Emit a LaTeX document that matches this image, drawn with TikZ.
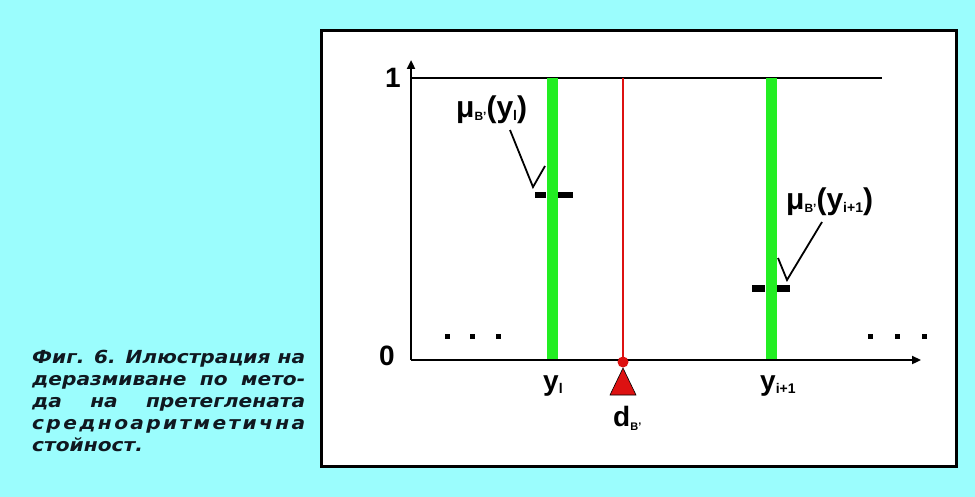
\documentclass[tikz,border=0pt]{standalone}
\usepackage{fontspec}
\setmainfont{Liberation Sans}
\newfontfamily\capfont[FakeStretch=1.12]{DejaVu Sans}
\usetikzlibrary{arrows.meta}
\definecolor{bgcyan}{HTML}{9BFDFD}
\definecolor{barGreen}{HTML}{22EE22}
\definecolor{redline}{HTML}{DD1111}
\definecolor{captext}{HTML}{101820}
\newcommand{\sbs}[2]{\raisebox{-#1}{\fontsize{14}{14}\selectfont #2}}
\tikzset{
  lbl/.style={font=\bfseries\fontsize{28}{30}\selectfont, inner sep=0pt},
  mulbl/.style={font=\bfseries\fontsize{30}{32}\selectfont, inner sep=0pt},
  gbar/.style={draw=barGreen, line width=11pt},
  leader/.style={draw=black, line width=1.8pt},
  capline/.style={anchor=base west, inner sep=0pt, text=captext,
    font=\capfont\bfseries\itshape\fontsize{18}{20}\selectfont}
}
\begin{document}
\begin{tikzpicture}[x=1pt,y=-1pt]
\fill[bgcyan] (0,0) rectangle (975,497);
\useasboundingbox (0,0) rectangle (975,497);
% white box
\draw[fill=white, line width=3pt] (321,31) rectangle (956,466);
% level 1 line
\draw[line width=1.2pt] (412,78) -- (882,78);
% green bars
\draw[gbar] (552,78) -- (552,359);
\draw[gbar] (771,78) -- (771,359);
% red line
\draw[redline, line width=2pt] (623,78) -- (623,360);
% axes
\coordinate (o) at (411,360);
\coordinate (ytop) at (411,60);
\coordinate (xend) at (921,360);
\draw[line width=2.6pt, -{Triangle[length=9pt,width=8pt]}] (o) -- (ytop);
\draw[line width=2.6pt, -{Triangle[length=9pt,width=8pt]}] (o) -- (xend);
% axis labels
\node[lbl] (one) at (393,78) {1};
\node[lbl] (zero) at (387,356) {0};
\node[lbl, anchor=west] (yi) at (543,386) {y\sbs{3pt}{l}};
\node[lbl, anchor=west] (yi1) at (760,386) {y\sbs{3pt}{i+1}};
% red marker
\fill[redline] (623,362) circle (5.5);
\draw[fill=redline, draw=black, line width=0.6pt] (623,368) -- (636,395) -- (610,395) -- cycle;
\node[lbl, anchor=west] (d) at (613,418) {d\raisebox{-4pt}{\fontsize{11}{11}\selectfont B'}};
% membership marks
\fill[black] (535,192) rectangle (546,198);
\fill[black] (558,192) rectangle (573,198);
\fill[black] (752,285) rectangle (765,292);
\fill[black] (777,285) rectangle (790,292);
% mu labels
\node[mulbl, anchor=west] (mu1) at (456,110) {μ\raisebox{-3pt}{\fontsize{12}{12}\selectfont B'}(y\sbs{3pt}{l})};
\node[mulbl, anchor=west] (mu2) at (786,202) {μ\raisebox{-3pt}{\fontsize{12}{12}\selectfont B'}(y\sbs{3pt}{i+1})};
\coordinate (l1a) at (510,130);
\coordinate (l1b) at (533,187);
\coordinate (l1c) at (545,166);
\coordinate (l2a) at (822,222);
\coordinate (l2b) at (787,280);
\coordinate (l2c) at (778,258);
\draw[leader] (l1a) -- (l1b) -- (l1c);
\draw[leader] (l2a) -- (l2b) -- (l2c);
% dots
\foreach \x in {447,472,498} \fill (\x-2.5,333.5) rectangle (\x+2.5,338.5);
\foreach \x in {870,897,924} \fill (\x-2.5,333.5) rectangle (\x+2.5,338.5);
% caption
\node[capline] (c1) at (32,363) {\makebox[273pt][s]{Фиг. 6. Илюстрация на}};
\node[capline] (c2) at (32,385) {\makebox[273pt][s]{деразмиване по мето-}};
\node[capline] (c3) at (32,407) {\makebox[273pt][s]{да на претеглената}};
\node[capline] (c4) at (32,429) {\makebox[273pt]{с\hfill р\hfill е\hfill д\hfill н\hfill о\hfill а\hfill р\hfill и\hfill т\hfill м\hfill е\hfill т\hfill и\hfill ч\hfill н\hfill а}};
\node[capline] (c5) at (32,451) {стойност.};
\end{tikzpicture}
\end{document}
